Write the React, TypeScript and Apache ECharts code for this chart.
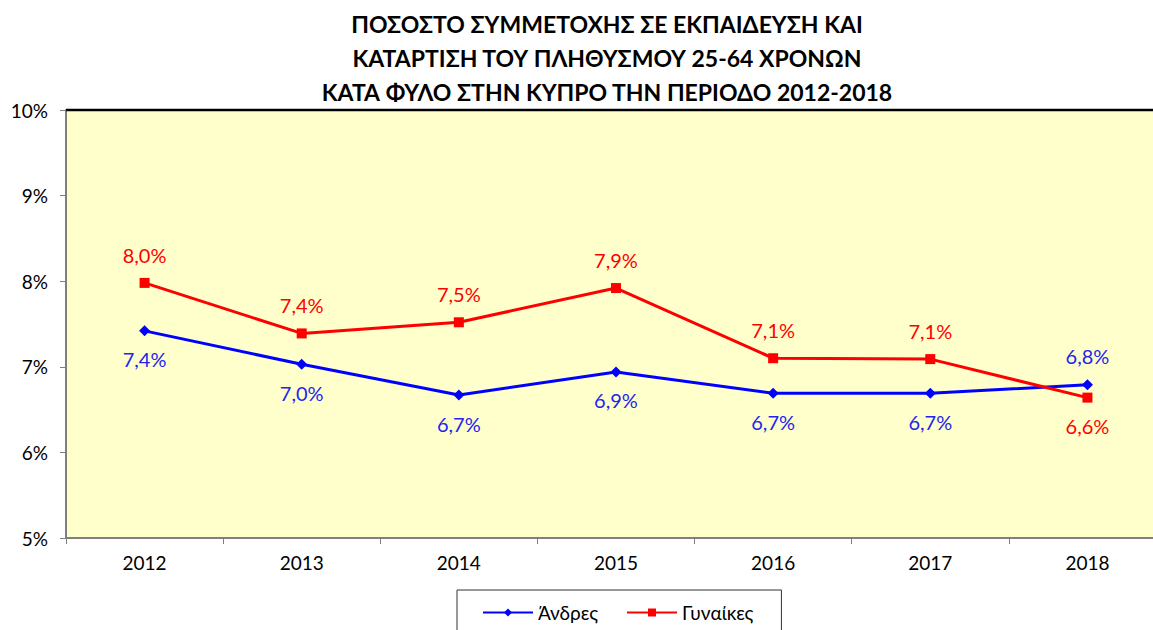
import React, { useEffect, useRef } from "react";
import * as echarts from "echarts";

const titleLines = [
  "ΠΟΣΟΣΤΟ ΣΥΜΜΕΤΟΧΗΣ ΣΕ ΕΚΠΑΙΔΕΥΣΗ ΚΑΙ",
  "ΚΑΤΑΡΤΙΣΗ ΤΟΥ ΠΛΗΘΥΣΜΟΥ 25-64 ΧΡΟΝΩΝ",
  "ΚΑΤΑ ΦΥΛΟ ΣΤΗΝ ΚΥΠΡΟ ΤΗΝ ΠΕΡΙΟΔΟ 2012-2018",
];
const years = ["2012", "2013", "2014", "2015", "2016", "2017", "2018"];
const andres = [7.42, 7.03, 6.67, 6.94, 6.69, 6.69, 6.79];
const gynaikes = [7.98, 7.39, 7.52, 7.92, 7.1, 7.09, 6.64];
const andresLabelPos = ["bottom", "bottom", "bottom", "bottom", "bottom", "bottom", "top"];
const gynaikesLabelPos = ["top", "top", "top", "top", "top", "top", "bottom"];

const FONT = "Lato, 'Open Sans', sans-serif";
const fmt = (v: number) => v.toFixed(1).replace(".", ",") + "%";

const W = 1166;
const H = 630;

export default function App() {
  const ref = useRef<HTMLDivElement>(null);
  useEffect(() => {
    if (!ref.current) return;
    const chart = echarts.init(ref.current, null, { renderer: "svg" });
    const mk = (vals: number[], pos: string[]) =>
      vals.map((v, i) => ({
        value: v,
        label: { position: pos[i] },
      }));
    chart.setOption({
      animation: false,
      textStyle: { fontFamily: FONT },
      title: {
        text: titleLines.join("\n"),
        left: 602,
        textAlign: "center",
        top: 2,
        textStyle: {
          fontFamily: FONT,
          fontWeight: "bold",
          fontSize: 23,
          lineHeight: 34,
          color: "#000",
        },
      },
      grid: { left: 66, right: 0, top: 110, bottom: 92, backgroundColor: "#FFFFCC", show: true, borderWidth: 0 },
      legend: {
        left: 457,
        top: 590,
        padding: [13, 28, 14, 25],
        borderColor: "#333",
        borderWidth: 1,
        itemWidth: 50,
        itemHeight: 10,
        itemGap: 28,
        textStyle: { fontFamily: FONT, fontSize: 19, color: "#000" },
        data: ["Άνδρες", "Γυναίκες"],
      },
      xAxis: {
        type: "category",
        data: years,
        boundaryGap: true,
        axisLine: { lineStyle: { color: "#7f7f7f", width: 2 } },
        axisTick: { show: true, length: 6, lineStyle: { color: "#7f7f7f", width: 1 } },
        axisLabel: { fontFamily: FONT, fontSize: 19, color: "#000", margin: 15 },
      },
      yAxis: {
        type: "value",
        min: 5,
        max: 10,
        interval: 1,
        axisLine: { show: true, lineStyle: { color: "#7f7f7f", width: 2 } },
        axisTick: { show: true, length: 6, lineStyle: { color: "#7f7f7f" } },
        splitLine: { show: false },
        axisLabel: { fontFamily: FONT, fontSize: 19, color: "#000", margin: 18, formatter: (v: number) => v + "%" },
      },
      graphic: [
        {
          type: "line",
          shape: { x1: 66, y1: 110, x2: W, y2: 110 },
          style: { stroke: "#000", lineWidth: 2.5 },
          z: 10,
        },
      ],
      series: [
        {
          name: "Άνδρες",
          type: "line",
          data: mk(andres, andresLabelPos),
          symbol: "diamond",
          symbolSize: 11,
          itemStyle: { color: "#0000ff" },
          lineStyle: { color: "#0000ff", width: 3 },
          label: {
            show: true,
            distance: 13,
            fontFamily: FONT,
            fontSize: 20,
            color: "#2424f0",
            formatter: (p: any) => fmt(p.value),
          },
        },
        {
          name: "Γυναίκες",
          type: "line",
          data: mk(gynaikes, gynaikesLabelPos),
          symbol: "rect",
          symbolSize: 10,
          itemStyle: { color: "#ff0000" },
          lineStyle: { color: "#ff0000", width: 3 },
          label: {
            show: true,
            distance: 13,
            fontFamily: FONT,
            fontSize: 20,
            color: "#ff0000",
            formatter: (p: any) => fmt(p.value),
          },
        },
      ],
    });
    return () => chart.dispose();
  }, []);
  return (
    <div style={{ position: "absolute", left: 0, top: 0, width: 1153, height: H, overflow: "hidden" }}>
      <div ref={ref} style={{ width: W, height: H }} />
    </div>
  );
}
